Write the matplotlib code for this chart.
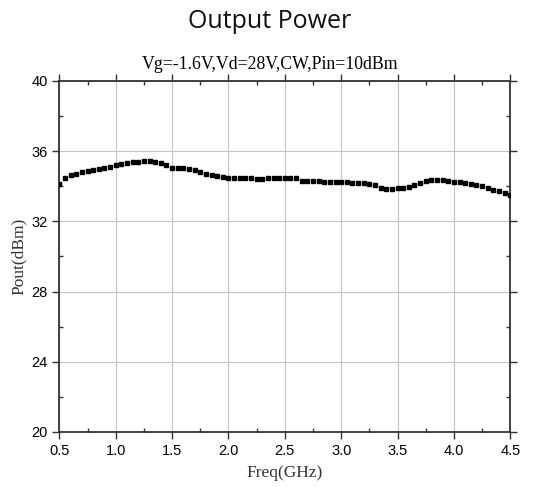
import matplotlib
matplotlib.use("Agg")
import matplotlib.pyplot as plt
from matplotlib.ticker import MultipleLocator

# frequency points (GHz)
freq = [0.50, 0.55, 0.60, 0.65, 0.70, 0.75, 0.80, 0.85, 0.90, 0.95,
        1.00, 1.05, 1.10, 1.15, 1.20, 1.25, 1.30, 1.35, 1.40, 1.45,
        1.50, 1.55, 1.60, 1.65, 1.70, 1.75, 1.80, 1.85, 1.90, 1.95,
        2.00, 2.05, 2.10, 2.15, 2.20, 2.25, 2.30, 2.35, 2.40, 2.45,
        2.50, 2.55, 2.60, 2.65, 2.70, 2.75, 2.80, 2.85, 2.90, 2.95,
        3.00, 3.05, 3.10, 3.15, 3.20, 3.25, 3.30, 3.35, 3.40, 3.45,
        3.50, 3.55, 3.60, 3.65, 3.70, 3.75, 3.80, 3.85, 3.90, 3.95,
        4.00, 4.05, 4.10, 4.15, 4.20, 4.25, 4.30, 4.35, 4.40, 4.45,
        4.50]

# output power (dBm)
pout = [34.10, 34.45, 34.62, 34.72, 34.80, 34.87, 34.93, 34.99, 35.06, 35.12,
        35.18, 35.25, 35.30, 35.35, 35.38, 35.41, 35.44, 35.40, 35.32, 35.22,
        35.06, 35.03, 35.01, 34.99, 34.92, 34.81, 34.71, 34.63, 34.56, 34.52,
        34.48, 34.46, 34.45, 34.44, 34.44, 34.43, 34.43, 34.44, 34.46, 34.47,
        34.48, 34.49, 34.45, 34.32, 34.28, 34.27, 34.27, 34.25, 34.24, 34.23,
        34.22, 34.21, 34.20, 34.18, 34.17, 34.14, 34.08, 33.92, 33.85, 33.85,
        33.87, 33.90, 33.96, 34.04, 34.16, 34.29, 34.35, 34.36, 34.33, 34.29,
        34.25, 34.21, 34.19, 34.12, 34.06, 34.00, 33.90, 33.80, 33.70, 33.60,
        33.50]

xticks = [0.5, 1.0, 1.5, 2.0, 2.5, 3.0, 3.5, 4.0, 4.5]
yticks = [20, 24, 28, 32, 36, 40]

fig = plt.figure(figsize=(5.4, 4.87), dpi=100)
ax = fig.add_axes([0.110, 0.113, 0.835, 0.721])

ax.plot(freq, pout, linestyle='none', marker='s', markersize=2.6,
        color='black', zorder=3)

ax.set_xlim(0.5, 4.5)
ax.set_ylim(20, 40)
ax.set_xticks(xticks)
ax.set_xticklabels([f"{t:.1f}" for t in xticks])
ax.set_yticks(yticks)
ax.xaxis.set_minor_locator(MultipleLocator(0.25))
ax.yaxis.set_minor_locator(MultipleLocator(2))

ax.grid(True, which='major', color='#c4c4c4', linewidth=0.8)
ax.set_axisbelow(True)

for s in ax.spines.values():
    s.set_color('#333333')
    s.set_linewidth(1.3)

ax.tick_params(which='major', direction='out', length=5, width=1,
               colors='#333333', labelsize=10.5, labelcolor='black',
               top=True, right=True)
ax.tick_params(which='minor', direction='in', length=3, width=1,
               colors='#333333', top=True, right=True)
for lab in ax.get_xticklabels() + ax.get_yticklabels():
    lab.set_family('Liberation Sans')

ax.set_xlabel('Freq(GHz)', family='Liberation Serif', fontsize=12.5,
              color='#333333', labelpad=5)
ax.set_ylabel('Pout(dBm)', family='Liberation Serif', fontsize=12.5,
              color='#333333', labelpad=3)

fig.text(0.5, 0.955, 'Output Power', ha='center', va='center',
         family='Open Sans', fontsize=18, color='#111111')
fig.text(0.5, 0.867, 'Vg=-1.6V,Vd=28V,CW,Pin=10dBm', ha='center',
         va='center', family='Liberation Serif', fontsize=12.8)

fig.savefig('out.png', dpi=100)
